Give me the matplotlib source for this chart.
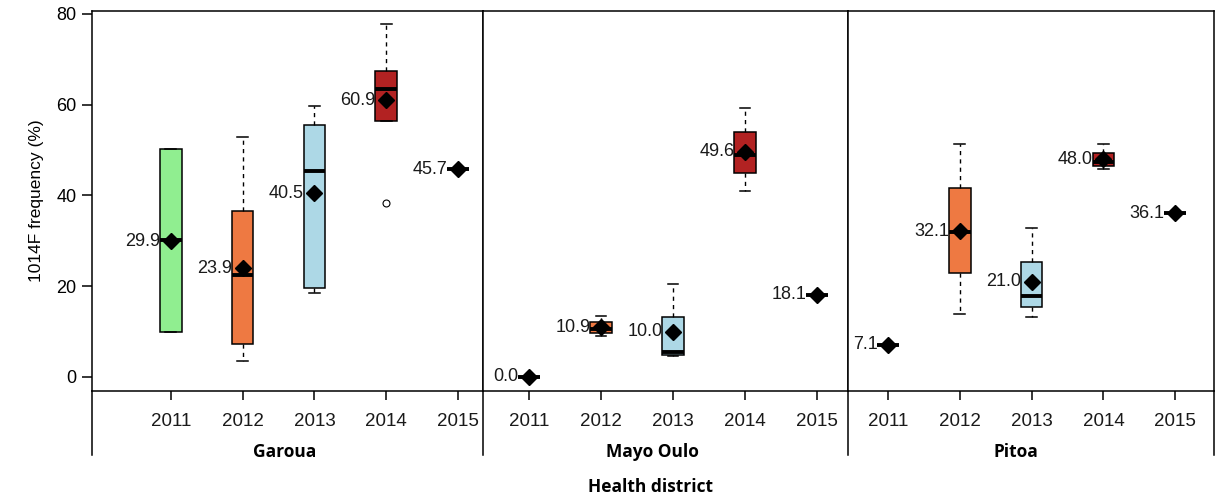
import matplotlib.pyplot as plt
from matplotlib.lines import Line2D

W, H = 1221, 496

years = [2011, 2012, 2013, 2014, 2015]
colors = ["#90EE90", "#EE7942", "#ADD8E6", "#B22222", "#FFFFFF"]
districts = ["Garoua", "Mayo Oulo", "Pitoa"]

# box statistics (1014F frequency, %)
garoua_q1 = [10.0, 7.2, 19.5, 56.3, 45.7]
garoua_med = [30.2, 22.4, 45.4, 63.4, 45.7]
garoua_q3 = [50.1, 36.6, 55.4, 67.4, 45.7]
garoua_lo = [10.0, 3.6, 18.5, 56.3, 45.7]
garoua_hi = [50.1, 52.8, 59.7, 77.7, 45.7]
garoua_mean = [29.9, 23.9, 40.5, 60.9, 45.7]
garoua_out = [[], [], [], [38.4], []]

mayo_q1 = [0.0, 9.7, 4.8, 44.9, 18.1]
mayo_med = [0.0, 10.6, 5.6, 48.8, 18.1]
mayo_q3 = [0.0, 12.1, 13.1, 54.0, 18.1]
mayo_lo = [0.0, 9.0, 4.5, 41.0, 18.1]
mayo_hi = [0.0, 13.5, 20.5, 59.2, 18.1]
mayo_mean = [0.0, 10.9, 10.0, 49.6, 18.1]
mayo_out = [[], [], [], [], []]

pitoa_q1 = [7.1, 22.8, 15.3, 46.5, 36.1]
pitoa_med = [7.1, 32.0, 17.9, 47.4, 36.1]
pitoa_q3 = [7.1, 41.6, 25.3, 49.3, 36.1]
pitoa_lo = [7.1, 13.8, 13.1, 45.8, 36.1]
pitoa_hi = [7.1, 51.3, 32.7, 51.4, 36.1]
pitoa_mean = [7.1, 32.1, 21.0, 48.0, 36.1]
pitoa_out = [[], [], [], [], []]

data = [
    (garoua_q1, garoua_med, garoua_q3, garoua_lo, garoua_hi, garoua_mean, garoua_out),
    (mayo_q1, mayo_med, mayo_q3, mayo_lo, mayo_hi, mayo_mean, mayo_out),
    (pitoa_q1, pitoa_med, pitoa_q3, pitoa_lo, pitoa_hi, pitoa_mean, pitoa_out),
]

plt.rcParams['font.family'] = ['Liberation Sans', 'DejaVu Sans']

fig = plt.figure(figsize=(W / 100, H / 100), dpi=100)

# panel edges in pixels
edges = [92, 483, 848, 1214]
xlims = [(-0.097, 5.347), (0.361, 5.43), (0.444, 5.54)]
name_x = [285, 652, 1016]
top, bottom = 11, 391

for i, (q1, med, q3, lo, hi, mean, out) in enumerate(data):
    x0, x1 = edges[i], edges[i + 1]
    ax = fig.add_axes([x0 / W, 1 - bottom / H, (x1 - x0) / W, (bottom - top) / H])
    stats = []
    for j in range(len(years)):
        stats.append(dict(q1=q1[j], med=med[j], q3=q3[j], whislo=lo[j],
                          whishi=hi[j], mean=mean[j], fliers=out[j]))
    pos = list(range(1, len(years) + 1))
    bp = ax.bxp(stats, positions=pos, widths=0.3, capwidths=0.15,
                patch_artist=True, showmeans=True,
                boxprops=dict(edgecolor="black", linewidth=1.1),
                medianprops=dict(color="black", linewidth=2.8, solid_capstyle="butt"),
                whiskerprops=dict(color="black", linewidth=1, linestyle=(0, (3, 3))),
                capprops=dict(color="black", linewidth=1.1),
                meanprops=dict(marker="D", markerfacecolor="black",
                               markeredgecolor="black", markersize=8.5),
                flierprops=dict(marker="o", markerfacecolor="white",
                                markeredgecolor="black", markersize=5,
                                markeredgewidth=0.8))
    for patch, c in zip(bp["boxes"], colors):
        patch.set_facecolor(c)
    for p, m in zip(pos, mean):
        ax.annotate(f"{m:.1f}", (p, m), xytext=(-7.5, 0), textcoords="offset points",
                    ha="right", va="center", fontsize=13, color="#1a1a1a")

    ax.set_xlim(*xlims[i])
    ax.set_ylim(-3.1, 80.6)
    ax.set_xticks(pos)
    ax.set_xticklabels([str(y) for y in years], fontsize=13.5, color="#1a1a1a")
    ax.tick_params(axis="x", length=6.5, width=1.1, pad=9)
    if i == 0:
        ax.set_yticks([0, 20, 40, 60, 80])
        ax.tick_params(axis="y", length=7, width=1.1, labelsize=13, pad=4)
        ax.set_ylabel("1014F frequency (%)", fontsize=12.5, labelpad=9)
    else:
        ax.set_yticks([])
    for s in ax.spines.values():
        s.set_linewidth(1.1)

    fig.text(name_x[i] / W, 1 - 452 / H, districts[i], ha="center", va="center",
             fontsize=12.5, fontweight="bold", family=["Open Sans", "DejaVu Sans"])

# vertical separators running down through the label area
for x in edges:
    fig.add_artist(Line2D([x / W, x / W], [1 - bottom / H, 1 - 455 / H],
                          color="black", linewidth=1.1))

fig.text(650 / W, 1 - 487 / H, "Health district", ha="center", va="center",
         fontsize=12.5, fontweight="bold", family=["Open Sans", "DejaVu Sans"])

fig.savefig("out.png", dpi=100)
